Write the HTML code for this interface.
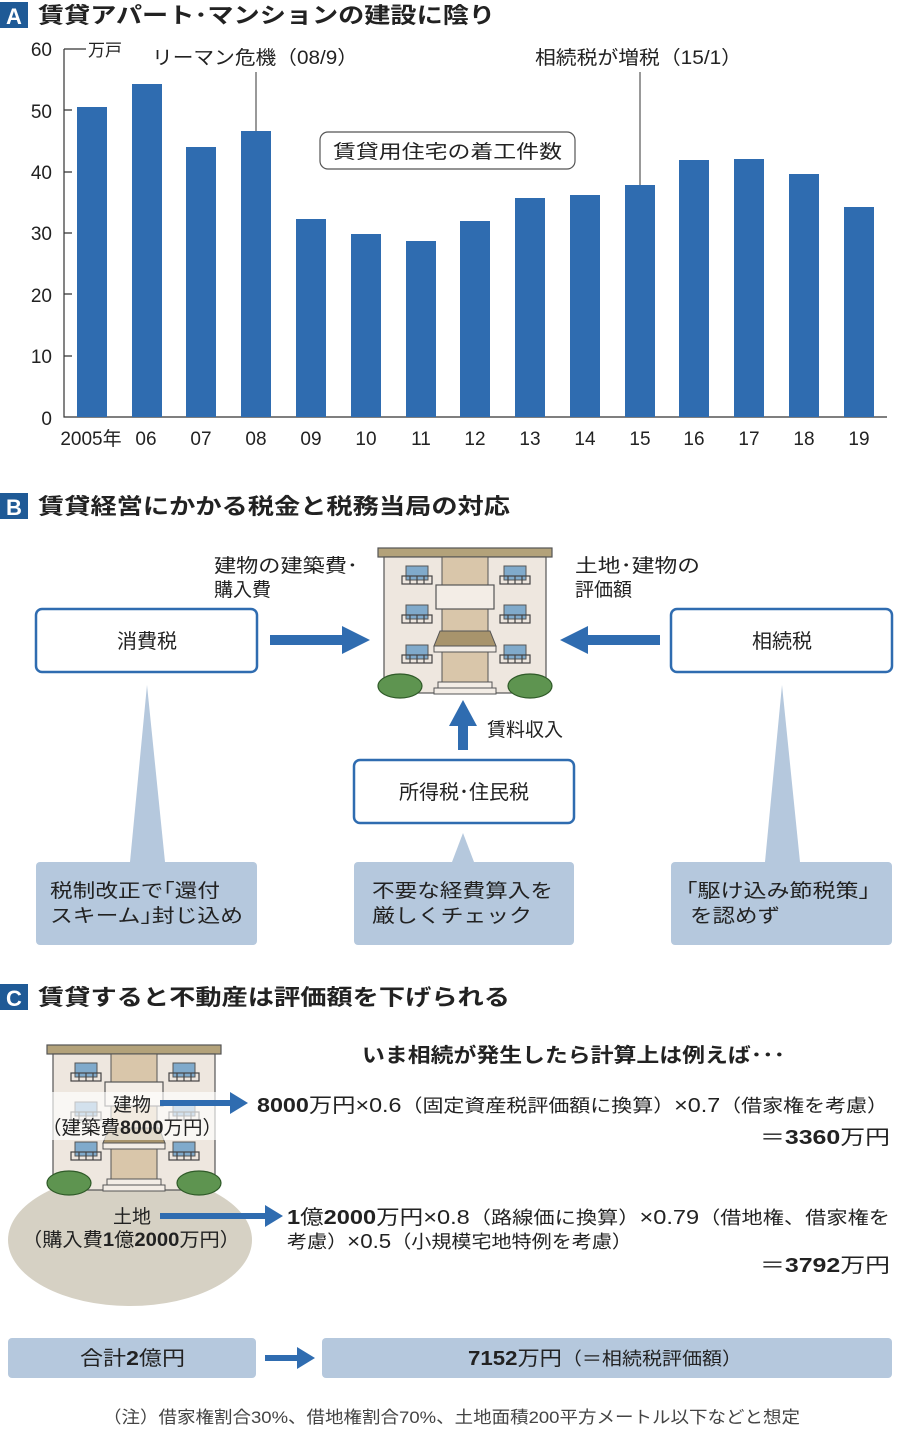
<!DOCTYPE html>
<html><head><meta charset="utf-8"><style>
body{margin:0;background:#fff}
svg{display:block}
text{font-family:"Liberation Sans","Noto Sans CJK JP",sans-serif;fill:#222}
.b{font-weight:bold}
</style></head><body>
<svg width="900" height="1437" viewBox="0 0 900 1437" xmlns="http://www.w3.org/2000/svg">
<defs>
<g id="bld">
<rect x="0" y="0" width="174" height="9" fill="#b3a27a" stroke="#555" stroke-width="1.2"/>
<rect x="6" y="9" width="162" height="136" fill="#eee7df" stroke="#555" stroke-width="1.2"/>
<rect x="64" y="9" width="46" height="136" fill="#d9c6aa" stroke="#555" stroke-width="1"/>
<rect x="58" y="37" width="58" height="24" fill="#f3ede6" stroke="#555" stroke-width="1.2"/>
<polygon points="62,83 112,83 118,98 56,98" fill="#a8946c" stroke="#555" stroke-width="1"/>
<rect x="56" y="98" width="62" height="6" fill="#f3ede6" stroke="#555" stroke-width="1"/>
<g fill="#80aacb" stroke="#555" stroke-width="1">
<rect x="28" y="18" width="22" height="14"/><rect x="126" y="18" width="22" height="14"/>
<rect x="28" y="57" width="22" height="14"/><rect x="126" y="57" width="22" height="14"/>
<rect x="28" y="97" width="22" height="14"/><rect x="126" y="97" width="22" height="14"/>
</g>
<g fill="none" stroke="#444" stroke-width="1.2">
<rect x="24" y="28" width="30" height="8"/><rect x="122" y="28" width="30" height="8"/>
<rect x="24" y="67" width="30" height="8"/><rect x="122" y="67" width="30" height="8"/>
<rect x="24" y="107" width="30" height="8"/><rect x="122" y="107" width="30" height="8"/>
<path d="M32 28v8M39 28v8M46 28v8M130 28v8M137 28v8M144 28v8M32 67v8M39 67v8M46 67v8M130 67v8M137 67v8M144 67v8M32 107v8M39 107v8M46 107v8M130 107v8M137 107v8M144 107v8"/>
</g>
<rect x="60" y="134" width="54" height="6" fill="#f3ede6" stroke="#555"/>
<rect x="56" y="140" width="62" height="6" fill="#f3ede6" stroke="#555"/>
<ellipse cx="22" cy="138" rx="22" ry="12" fill="#5e9450" stroke="#2f5a28" stroke-width="1.2"/>
<ellipse cx="152" cy="138" rx="22" ry="12" fill="#5e9450" stroke="#2f5a28" stroke-width="1.2"/>
</g>
</defs>

<!-- Section A -->
<rect x="0" y="2" width="28" height="26" fill="#1f5a96"/>
<text x="6" y="24" font-size="22" class="b" style="fill:#fff">A</text>
<text x="38" y="23" font-size="22" class="b" textLength="457" lengthAdjust="spacingAndGlyphs">賃貸アパート･マンションの建設に陰り</text>

<g font-size="19">
<text x="52" y="56" text-anchor="end">60</text>
<text x="52" y="118" text-anchor="end">50</text>
<text x="52" y="179" text-anchor="end">40</text>
<text x="52" y="240" text-anchor="end">30</text>
<text x="52" y="302" text-anchor="end">20</text>
<text x="52" y="363" text-anchor="end">10</text>
<text x="52" y="425" text-anchor="end">0</text>
</g>
<path d="M64 49V417H887M64 49h22M64 110h8M64 172h8M64 233h8M64 294h8M64 356h8" stroke="#333" stroke-width="1.2" fill="none"/>
<text x="88" y="56" font-size="17">万戸</text>
<text x="152" y="64" font-size="19" textLength="206" lengthAdjust="spacingAndGlyphs">リーマン危機（08/9）</text>
<text x="535" y="64" font-size="19" textLength="207" lengthAdjust="spacingAndGlyphs">相続税が増税（15/1）</text>
<path d="M256 72V131M640 72V185" stroke="#333" stroke-width="1"/>
<g fill="#2f6cb0">
<rect x="77" y="107" width="30" height="310"/>
<rect x="132" y="84" width="30" height="333"/>
<rect x="186" y="147" width="30" height="270"/>
<rect x="241" y="131" width="30" height="286"/>
<rect x="296" y="219" width="30" height="198"/>
<rect x="351" y="234" width="30" height="183"/>
<rect x="406" y="241" width="30" height="176"/>
<rect x="460" y="221" width="30" height="196"/>
<rect x="515" y="198" width="30" height="219"/>
<rect x="570" y="195" width="30" height="222"/>
<rect x="625" y="185" width="30" height="232"/>
<rect x="679" y="160" width="30" height="257"/>
<rect x="734" y="159" width="30" height="258"/>
<rect x="789" y="174" width="30" height="243"/>
<rect x="844" y="207" width="30" height="210"/>
</g>
<rect x="320" y="132" width="255" height="37" rx="8" fill="#fff" stroke="#555" stroke-width="1.2"/>
<text x="333" y="158" font-size="19" textLength="229" lengthAdjust="spacingAndGlyphs">賃貸用住宅の着工件数</text>
<g font-size="19" text-anchor="middle">
<text x="91" y="445">2005年</text><text x="146" y="445">06</text><text x="201" y="445">07</text>
<text x="256" y="445">08</text><text x="311" y="445">09</text><text x="366" y="445">10</text>
<text x="421" y="445">11</text><text x="475" y="445">12</text><text x="530" y="445">13</text>
<text x="585" y="445">14</text><text x="640" y="445">15</text><text x="694" y="445">16</text>
<text x="749" y="445">17</text><text x="804" y="445">18</text><text x="859" y="445">19</text>
</g>

<!-- Section B -->
<rect x="0" y="493" width="28" height="26" fill="#1f5a96"/>
<text x="6" y="515" font-size="22" class="b" style="fill:#fff">B</text>
<text x="38" y="514" font-size="22" class="b" textLength="472" lengthAdjust="spacingAndGlyphs">賃貸経営にかかる税金と税務当局の対応</text>

<use href="#bld" x="378" y="548"/>
<text x="214" y="572" font-size="19" textLength="144" lengthAdjust="spacingAndGlyphs">建物の建築費･</text>
<text x="214" y="596" font-size="19">購入費</text>
<text x="575" y="572" font-size="19" textLength="125" lengthAdjust="spacingAndGlyphs">土地･建物の</text>
<text x="575" y="596" font-size="19">評価額</text>

<g fill="#b5c8dd">
<polygon points="147,685 130,862 165,862"/>
<polygon points="782,685 765,862 800,862"/>
<polygon points="463,833 452,862 474,862"/>
<rect x="36" y="862" width="221" height="83" rx="4"/>
<rect x="354" y="862" width="220" height="83" rx="4"/>
<rect x="671" y="862" width="221" height="83" rx="4"/>
</g>
<g fill="#fff" stroke="#2f6cb0" stroke-width="2.5">
<rect x="36" y="609" width="221" height="63" rx="6"/>
<rect x="671" y="609" width="221" height="63" rx="6"/>
<rect x="354" y="760" width="220" height="63" rx="6"/>
</g>
<g font-size="20" text-anchor="middle">
<text x="147" y="648">消費税</text>
<text x="782" y="648">相続税</text>
<text x="464" y="799">所得税･住民税</text>
</g>
<g fill="#2f6cb0">
<polygon points="270,635 342,635 342,626 370,640 342,654 342,645 270,645"/>
<polygon points="660,635 588,635 588,626 560,640 588,654 588,645 660,645"/>
<polygon points="458,750 458,726 449,726 463,700 477,726 468,726 468,750"/>
</g>
<text x="487" y="736" font-size="19">賃料収入</text>
<g font-size="19">
<text x="50" y="897" textLength="170" lengthAdjust="spacingAndGlyphs">税制改正で｢還付</text>
<text x="50" y="922" textLength="193" lengthAdjust="spacingAndGlyphs">スキーム｣封じ込め</text>
<text x="372" y="897" textLength="181" lengthAdjust="spacingAndGlyphs">不要な経費算入を</text>
<text x="372" y="922" textLength="160" lengthAdjust="spacingAndGlyphs">厳しくチェック</text>
<text x="686" y="897" textLength="184" lengthAdjust="spacingAndGlyphs">｢駆け込み節税策｣</text>
<text x="690" y="922" textLength="90" lengthAdjust="spacingAndGlyphs">を認めず</text>
</g>

<!-- Section C -->
<rect x="0" y="984" width="28" height="26" fill="#1f5a96"/>
<text x="6" y="1006" font-size="22" class="b" style="fill:#fff">C</text>
<text x="38" y="1005" font-size="22" class="b" textLength="472" lengthAdjust="spacingAndGlyphs">賃貸すると不動産は評価額を下げられる</text>

<ellipse cx="130" cy="1240" rx="122" ry="66" fill="#d6d1c4"/>
<use href="#bld" x="47" y="1045"/>
<rect x="35" y="1092" width="190" height="48" fill="#fff" opacity="0.65"/>
<text x="132" y="1111" font-size="19" text-anchor="middle">建物</text>
<text x="42" y="1134" font-size="19" textLength="180" lengthAdjust="spacingAndGlyphs">（建築費<tspan class="b">8000</tspan>万円）</text>
<text x="132" y="1223" font-size="19" text-anchor="middle">土地</text>
<text x="22" y="1246" font-size="19" textLength="218" lengthAdjust="spacingAndGlyphs">（購入費<tspan class="b">1</tspan>億<tspan class="b">2000</tspan>万円）</text>
<g fill="#2f6cb0">
<polygon points="160,1100 230,1100 230,1092 248,1103 230,1114 230,1106 160,1106"/>
<polygon points="160,1213 265,1213 265,1205 283,1216 265,1227 265,1219 160,1219"/>
<polygon points="265,1355 297,1355 297,1347 315,1358 297,1369 297,1361 265,1361"/>
</g>
<text x="362" y="1062" font-size="20" class="b" textLength="423" lengthAdjust="spacingAndGlyphs">いま相続が発生したら計算上は例えば･･･</text>
<text x="257" y="1112" font-size="20" textLength="631" lengthAdjust="spacingAndGlyphs"><tspan class="b">8000</tspan>万円×0.6<tspan font-size="18">（固定資産税評価額に換算）</tspan>×0.7<tspan font-size="18">（借家権を考慮）</tspan></text>
<text x="760" y="1144" font-size="20" textLength="130" lengthAdjust="spacingAndGlyphs">＝<tspan class="b">3360</tspan>万円</text>
<text x="287" y="1224" font-size="20" textLength="603" lengthAdjust="spacingAndGlyphs"><tspan class="b">1</tspan>億<tspan class="b">2000</tspan>万円×0.8<tspan font-size="18">（路線価に換算）</tspan>×0.79<tspan font-size="18">（借地権、借家権を</tspan></text>
<text x="287" y="1248" font-size="18" textLength="345" lengthAdjust="spacingAndGlyphs">考慮）<tspan font-size="20">×0.5</tspan>（小規模宅地特例を考慮）</text>
<text x="760" y="1272" font-size="20" textLength="130" lengthAdjust="spacingAndGlyphs">＝<tspan class="b">3792</tspan>万円</text>

<rect x="8" y="1338" width="248" height="40" rx="4" fill="#b5c8dd"/>
<rect x="322" y="1338" width="570" height="40" rx="4" fill="#b5c8dd"/>
<text x="80" y="1365" font-size="20" textLength="105" lengthAdjust="spacingAndGlyphs">合計<tspan class="b">2</tspan>億円</text>
<text x="468" y="1365" font-size="20" textLength="274" lengthAdjust="spacingAndGlyphs"><tspan class="b">7152</tspan>万円<tspan font-size="18">（＝相続税評価額）</tspan></text>
<text x="103" y="1423" font-size="17" style="fill:#444" textLength="697" lengthAdjust="spacingAndGlyphs">（注）借家権割合30%、借地権割合70%、土地面積200平方メートル以下などと想定</text>
</svg>
</body></html>
